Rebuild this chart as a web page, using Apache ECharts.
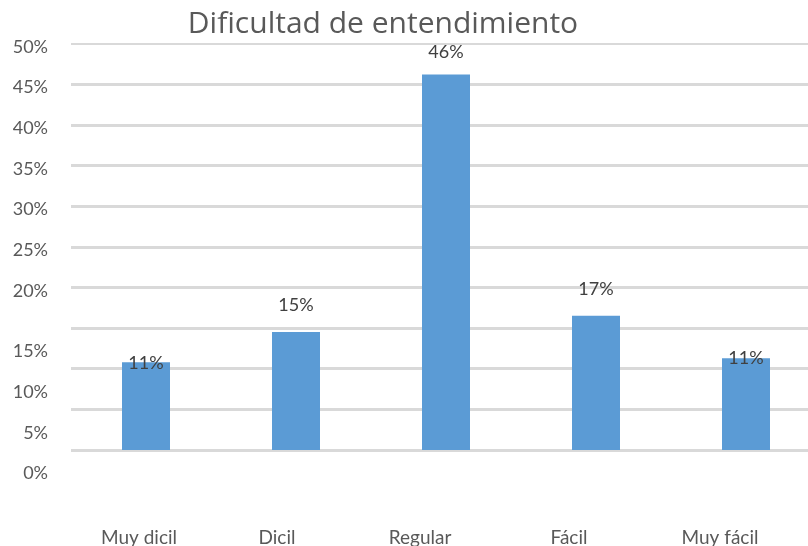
<!DOCTYPE html>
<html>
<head>
<meta charset="utf-8">
<script src="https://cdn.jsdelivr.net/npm/echarts@6/dist/echarts.min.js"></script>
<style>
  html, body { margin: 0; padding: 0; background: #fff; }
  #chart { width: 808px; height: 546px; }
</style>
</head>
<body>
<div id="chart"></div>
<script>
// Respuestas por nivel de dificultad (porcentaje)
const categories = ['Muy dicil', 'Dicil', 'Regular', 'Fácil', 'Muy fácil'];
const values = [10.8, 14.5, 46.2, 16.5, 11.3];
const yTicks = [0, 5, 10, 15, 20, 25, 30, 35, 40, 45, 50];

const FONT = 'Lato, "Open Sans", sans-serif';

// label placement relative to each bar top
const labelLift = [-10, 18, 13, 18, -9];
// horizontal nudge of category names (px, negative = left)
const catShift = [-7, -19, -26, -27, -26];

const catRich = {};
catShift.forEach((s, i) => {
  catRich['c' + i] = {
    fontFamily: FONT, fontSize: 19, color: '#595959',
    padding: [0, -2 * s, 0, 0]
  };
});

const gridColors = yTicks.map((t, i) => i === yTicks.length - 1 ? 'rgba(0,0,0,0)' : '#d9d9d9');

const chart = echarts.init(document.getElementById('chart'), null, { renderer: 'canvas' });
chart.setOption({
  animation: false,
  backgroundColor: '#ffffff',
  title: {
    text: 'Dificultad de entendimiento',
    left: 378, top: 4, textAlign: 'center',
    textStyle: {
      fontFamily: '"Open Sans", Lato, sans-serif', fontSize: 30, fontWeight: 'normal',
      color: '#595959'
    }
  },
  grid: { left: 71, width: 750, top: 43.5, bottom: 96, containLabel: false, outerBoundsMode: 'none' },
  xAxis: {
    type: 'category',
    data: categories,
    axisLine: { show: false },
    axisTick: { show: false },
    axisLabel: {
      margin: 78,
      formatter: (v, i) => '{c' + i + '|' + v + '}',
      rich: catRich
    }
  },
  yAxis: {
    type: 'value',
    min: yTicks[0], max: yTicks[yTicks.length - 1], interval: 5,
    axisLine: { show: false },
    axisTick: { show: false },
    splitLine: { lineStyle: { color: gridColors, width: 3 } },
    axisLabel: {
      margin: 23,
      formatter: v => (v <= 15 ? '{lo|' : '{hi|') + v + '%}',
      rich: {
        lo: { fontFamily: FONT, fontSize: 18, color: '#595959', padding: [47, 0, 0, 0] },
        hi: { fontFamily: FONT, fontSize: 18, color: '#595959', padding: [7, 0, 0, 0] }
      }
    }
  },
  series: [{
    type: 'bar',
    barWidth: 48,
    itemStyle: { color: '#5b9bd5' },
    data: values.map((v, i) => ({
      value: v,
      label: { distance: labelLift[i] }
    })),
    label: {
      show: true,
      position: 'top',
      fontFamily: FONT, fontSize: 18, color: '#404040',
      formatter: p => Math.round(p.value) + '%'
    },
    markLine: {
      silent: true,
      symbol: 'none',
      label: { show: false },
      lineStyle: { color: '#d9d9d9', width: 2, type: 'solid' },
      data: [{ yAxis: yTicks[yTicks.length - 1] }]
    }
  }]
});
</script>
</body>
</html>
